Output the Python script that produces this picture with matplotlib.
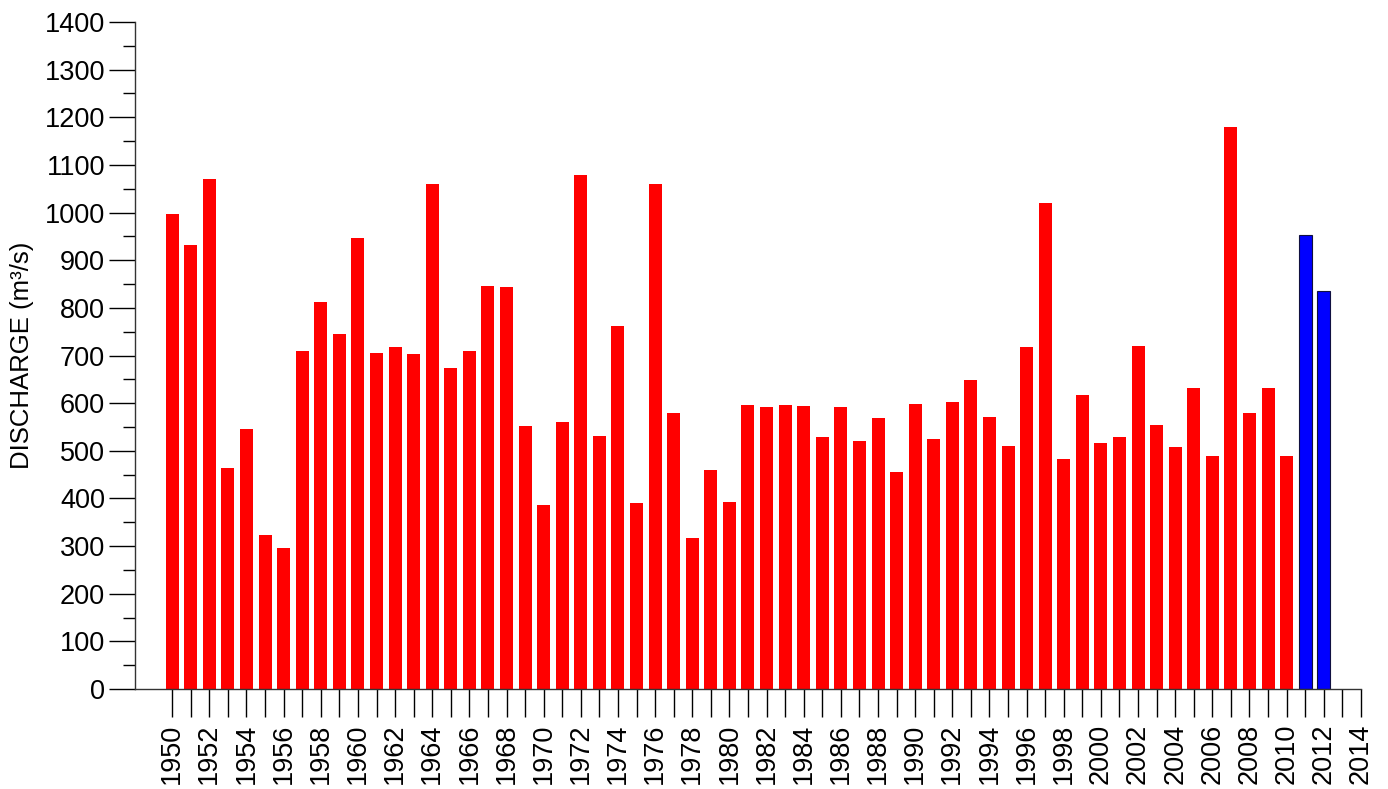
import matplotlib
matplotlib.use('Agg')
from matplotlib import pyplot as plt
from matplotlib.ticker import MultipleLocator

# Annual discharge, 1950-2010 (observed) and 2011-2012 (recent)
years = list(range(1950, 2011))
discharge = [998, 932, 1070, 463, 546, 323, 296, 710, 812, 745,
             947, 705, 718, 703, 1060, 674, 710, 846, 844, 552,
             387, 560, 1079, 531, 762, 390, 1060, 579, 317, 460,
             393, 596, 592, 596, 594, 529, 592, 521, 569, 455,
             598, 524, 602, 649, 571, 510, 718, 1020, 483, 617,
             516, 529, 720, 554, 508, 632, 489, 1180, 579, 632,
             489]
recent_years = [2011, 2012]
recent_discharge = [953, 835]

plt.rcParams['font.family'] = ['Liberation Sans', 'DejaVu Sans']

fig = plt.figure(figsize=(13.88, 7.89), dpi=100)
ax = fig.add_axes([0.0973, 0.1267, 0.8832, 0.8454])

ax.bar(years, discharge, width=0.7, color='#ff0000', edgecolor='none')
ax.bar(recent_years, recent_discharge, width=0.7, color='#0000ff',
       edgecolor='#101040', linewidth=0.8)

ax.set_xlim(1948, 2014)
ax.set_ylim(0, 1400)
ax.yaxis.set_major_locator(MultipleLocator(100))
ax.yaxis.set_minor_locator(MultipleLocator(50))
ax.set_xticks(range(1950, 2015))
ax.set_xticklabels([str(y) if y % 2 == 0 else '' for y in range(1950, 2015)],
                   rotation=90)

for side in ('top', 'right'):
    ax.spines[side].set_visible(False)
for side in ('left', 'bottom'):
    ax.spines[side].set_linewidth(1.0)
    ax.spines[side].set_color('#333333')

ax.tick_params(axis='y', which='major', length=19, width=1, labelsize=19.5, pad=2.5)
ax.tick_params(axis='y', which='minor', length=9, width=1)
ax.tick_params(axis='x', which='major', length=20, width=1, labelsize=19.5, pad=5)

ax.set_ylabel('DISCHARGE (m³/s)', fontsize=18.5, labelpad=8)

fig.savefig('out.png', dpi=100)
